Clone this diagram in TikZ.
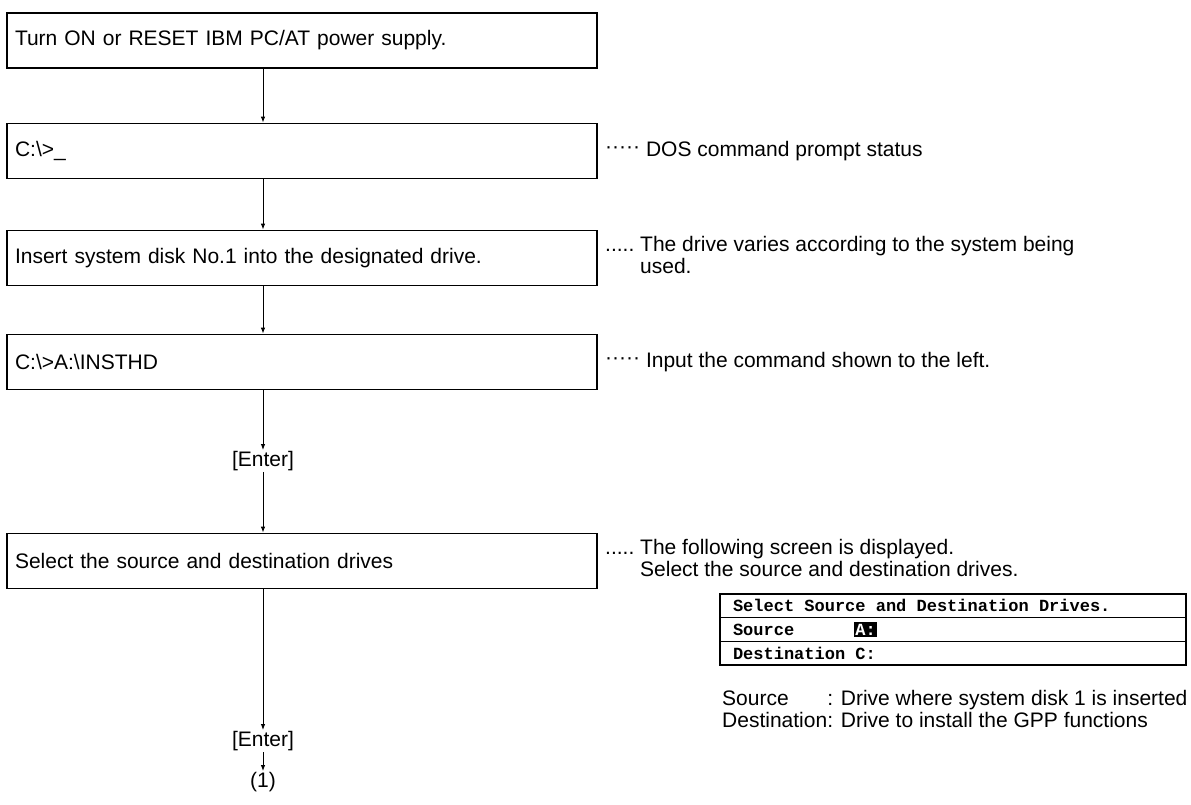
\documentclass[tikz,border=0pt]{standalone}
\usepackage{fontspec}
\setmainfont{Liberation Sans}
\newfontfamily\scrfont{Liberation Mono}
\usetikzlibrary{arrows.meta}
\newcommand\monofont{\scrfont\bfseries\fontsize{17}{19}\selectfont}
\newcommand\ms{\hspace*{0.6em}}
\begin{document}
\begin{tikzpicture}[x=1pt,y=-1pt,
  txt/.style={font=\fontsize{21}{24}\selectfont},
  stepbox/.style={txt,draw,line width=1.8pt,minimum width=590pt,minimum height=55pt,
     text width=574pt,inner xsep=8pt,align=left},
  note/.style={font=\fontsize{21}{22}\selectfont,anchor=west,inner sep=0pt,align=left},
  arr/.style={line width=0.9pt,-{Latex[length=6pt,width=4.5pt]}},
  row/.style={draw,line width=1.5pt,minimum width=466pt,minimum height=23.7pt,
     text width=440pt,inner xsep=13pt,align=left,font=\monofont}]
\useasboundingbox (0,0) rectangle (1191,804);
\coordinate (axis) at (263,0);

\node[stepbox] (b1) at (302,40.5) {Turn ON or RESET IBM PC/AT power supply.};
\node[stepbox] (b2) at (302,151) {C:\textbackslash>\_};
\node[stepbox] (b3) at (302,258) {Insert system disk No.1 into the designated drive.};
\node[stepbox] (b4) at (302,362) {C:\textbackslash>A:\textbackslash INSTHD};
\node[txt,inner sep=1pt] (e1) at (263,461) {[Enter]};
\node[stepbox] (b5) at (302,561) {Select the source and destination drives};
\node[txt,inner sep=1pt] (e2) at (263,741) {[Enter]};
\node[txt,inner sep=1pt] (o1) at (263,782) {(1)};

\draw[arr] (b1.south -| axis) -- (b2.north -| axis);
\draw[arr] (b2.south -| axis) -- (b3.north -| axis);
\draw[arr] (b3.south -| axis) -- (b4.north -| axis);
\draw[arr] (b4.south -| axis) -- (e1.north);
\draw[arr] (e1.south) -- (b5.north -| axis);
\draw[arr] (b5.south -| axis) -- (e2.north);
\draw[arr] (e2.south) -- (o1.north);

\node[note] (n2) at (605,151) {\raisebox{0.3ex}{\textperiodcentered\textperiodcentered\textperiodcentered\textperiodcentered\textperiodcentered}\ DOS command prompt status};
\node[note] (n3) at (605,258) {\begin{tabular}{@{}l@{\ }l}.....&The drive varies according to the system being\\&used.\end{tabular}};
\node[note] (n4) at (605,362) {\raisebox{0.3ex}{\textperiodcentered\textperiodcentered\textperiodcentered\textperiodcentered\textperiodcentered}\ Input the command shown to the left.};
\node[note] (n5) at (605,561) {\begin{tabular}{@{}l@{\ }l}.....&The following screen is displayed.\\&Select the source and destination drives.\end{tabular}};

\node[row] (t1) at (953,605.85) {Select\ms Source\ms and\ms Destination\ms Drives.};
\node[row] (t2) at (953,629.55) {Source\ms\ms\ms\ms\ms\ms\hspace*{-1.5pt}{\fboxsep=1.5pt\colorbox{black}{\textcolor{white}{A:}}}};
\node[row] (t3) at (953,653.25) {Destination\ms C:};

\node[note] (n6) at (722,712) {\begin{tabular}{@{}l@{}l}Source&: Drive where system disk 1 is inserted\\Destination&: Drive to install the GPP functions\end{tabular}};
\end{tikzpicture}
\end{document}
